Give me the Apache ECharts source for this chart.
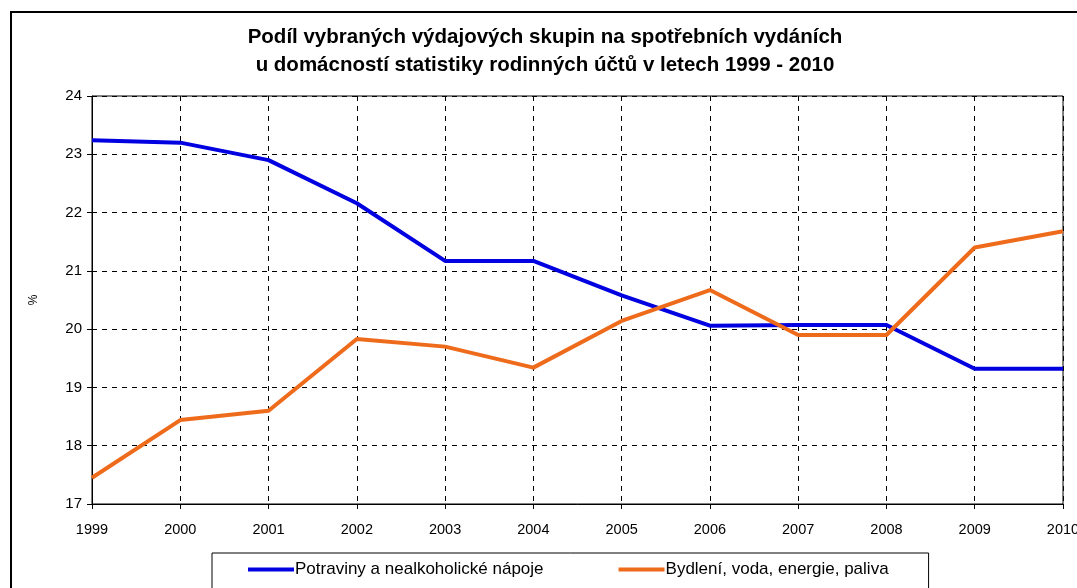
<!DOCTYPE html>
<html>
<head>
<meta charset="utf-8">
<script src="https://cdn.jsdelivr.net/npm/echarts@6/dist/echarts.min.js"></script>
<style>
html,body{margin:0;padding:0;background:#fff;}
#main{width:1077px;height:588px;}
</style>
</head>
<body>
<div id="main"></div>
<script>
// roky a hodnoty (%)
var years = ['1999','2000','2001','2002','2003','2004','2005','2006','2007','2008','2009','2010'];
var potraviny = [23.24, 23.2, 22.9, 22.16, 21.17, 21.17, 20.58, 20.06, 20.07, 20.07, 19.32, 19.32];
var bydleni = [17.45, 18.44, 18.6, 19.83, 19.7, 19.34, 20.14, 20.67, 19.9, 19.9, 21.4, 21.68];
var seriesNames = ['Potraviny a nealkoholické nápoje', 'Bydlení, voda, energie, paliva'];
var colors = ['#0000e0', '#ee6b1c'];

var font = "'Liberation Sans', Arial, sans-serif";
var myChart = echarts.init(document.getElementById('main'));

myChart.setOption({
    backgroundColor: '#fff',
    animation: false,
    title: {
        text: 'Podíl vybraných výdajových skupin na spotřebních vydáních\nu domácností statistiky rodinných účtů v letech 1999 - 2010',
        left: 540,
        textAlign: 'center',
        top: 18,
        textStyle: {
            fontFamily: font,
            fontSize: 20.5,
            fontWeight: 'bold',
            color: '#000',
            lineHeight: 28
        }
    },
    graphic: [{
        type: 'rect',
        shape: {x: 11, y: 12, width: 1100, height: 620},
        style: {fill: 'none', stroke: '#000', lineWidth: 2},
        silent: true
    }],
    legend: {
        data: seriesNames,
        left: 212,
        top: 553,
        orient: 'horizontal',
        itemWidth: 46,
        itemHeight: 4,
        itemGap: 75,
        icon: 'rect',
        padding: [8, 40, 24, 36],
        borderColor: '#000',
        borderWidth: 1,
        textStyle: {fontFamily: font, fontSize: 17, color: '#000', padding: [0, 0, 0, -4]}
    },
    grid: {
        left: 92,
        right: 14,
        top: 96,
        bottom: 84,
        outerBoundsMode: 'none',
        show: true,
        borderColor: '#000',
        borderWidth: 1,
        backgroundColor: '#fff'
    },
    xAxis: {
        type: 'category',
        data: years,
        boundaryGap: false,
        axisLine: {lineStyle: {color: '#000', width: 1}},
        axisTick: {show: true, length: 5, lineStyle: {color: '#000'}},
        axisLabel: {fontFamily: font, fontSize: 14.5, color: '#000', margin: 18},
        splitLine: {show: true, lineStyle: {color: '#000', type: [5, 5], width: 1}}
    },
    yAxis: {
        type: 'value',
        min: 17,
        max: 24,
        interval: 1,
        name: '%',
        nameLocation: 'middle',
        nameGap: 52,
        nameTextStyle: {fontFamily: font, fontSize: 12, color: '#000'},
        axisLine: {show: true, lineStyle: {color: '#000', width: 1}},
        axisTick: {show: true, length: 5, lineStyle: {color: '#000'}},
        axisLabel: {fontFamily: font, fontSize: 15, color: '#000', margin: 10},
        splitLine: {show: true, lineStyle: {color: '#000', type: [5, 5], width: 1}}
    },
    series: [{
        name: seriesNames[0],
        type: 'line',
        data: potraviny,
        symbol: 'none',
        color: colors[0],
        lineStyle: {width: 4, color: colors[0]}
    }, {
        name: seriesNames[1],
        type: 'line',
        data: bydleni,
        symbol: 'none',
        color: colors[1],
        lineStyle: {width: 4, color: colors[1]}
    }]
});
</script>
</body>
</html>
